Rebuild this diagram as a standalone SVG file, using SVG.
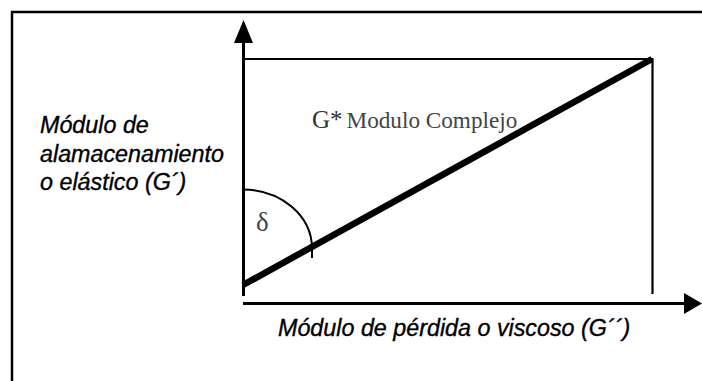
<svg xmlns="http://www.w3.org/2000/svg" width="702" height="381" viewBox="0 0 702 381">
  <style>
    .frame { fill: none; stroke: #000; stroke-width: 2.5; }
    .axis { fill: none; stroke: #000; stroke-width: 3; }
    .thin { fill: none; stroke: #000; stroke-width: 2.2; }
    .vec { fill: none; stroke: #000; stroke-width: 6.5; stroke-linecap: butt; }
    .arc { fill: none; stroke: #000; stroke-width: 2; }
    .lbl { font-family: "Liberation Sans", Arial, sans-serif; font-style: italic; font-size: 23.3px; fill: #000; stroke: #000; stroke-width: 0.35; }
    .serif { font-family: "Liberation Serif", "Times New Roman", serif; fill: #444; }
    .head { fill: #000; stroke: none; }
  </style>
  <rect width="702" height="381" fill="#fff"/>
  <g id="frame">
    <path class="frame" d="M12,381 V12 H702"/>
  </g>
  <g id="connectors">
    <line id="y-axis" class="axis" x1="243.5" y1="296" x2="243.5" y2="40"/>
    <polygon class="head" points="243.5,20 234,43 253,43"/>
    <line id="x-axis" class="axis" x1="243" y1="303.5" x2="686" y2="303.5"/>
    <polygon class="head" points="702,303.5 684,293 684,314"/>
    <line class="thin" x1="243" y1="59" x2="653" y2="59"/>
    <line class="thin" x1="652.5" y1="58" x2="652.5" y2="294"/>
    <line id="vector" class="vec" x1="243" y1="285" x2="652" y2="59"/>
    <path id="angle" class="arc" d="M243,189.5 A69,59 0 0 1 312,248.5 V258"/>
  </g>
  <g id="label-delta">
    <text class="serif" x="256" y="231" font-size="27" fill="#555">δ</text>
  </g>
  <g id="label-complex">
    <text class="serif" x="312" y="128"><tspan font-size="25" fill="#333">G*</tspan><tspan font-size="23.2" dx="4">Modulo Complejo</tspan></text>
  </g>
  <g id="label-y">
    <text class="lbl" x="40" y="133">Módulo de</text>
    <text class="lbl" x="40" y="162">alamacenamiento</text>
    <text class="lbl" x="40" y="190">o elástico (G´)</text>
  </g>
  <g id="label-x">
    <text class="lbl" x="278" y="336" font-size="23.8">Módulo de pérdida o viscoso (G´´)</text>
  </g>
</svg>
